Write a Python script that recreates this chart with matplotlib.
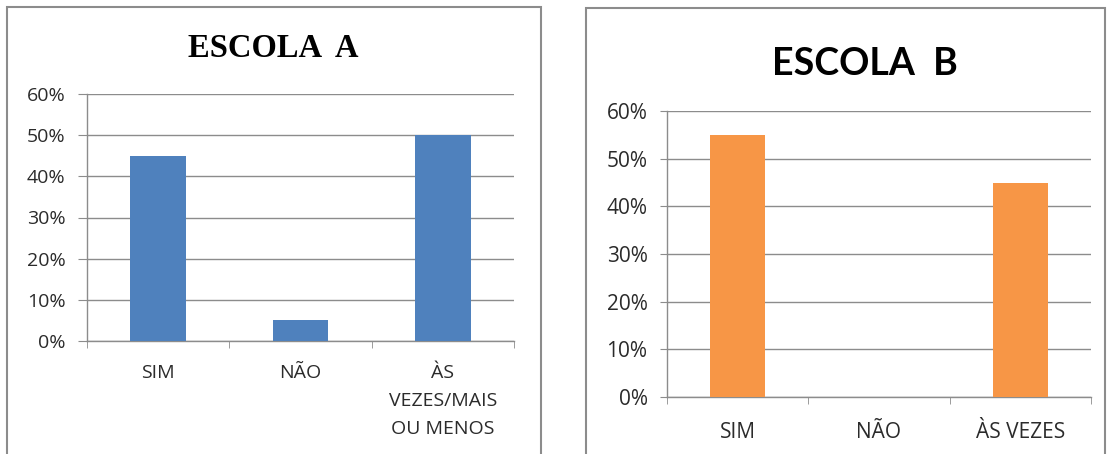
import matplotlib
matplotlib.use('Agg')
import matplotlib.pyplot as plt
from matplotlib.patches import Rectangle
from matplotlib.ticker import PercentFormatter, FixedLocator

# dados
categorias_a = ['SIM', 'NÃO', 'ÀS\nVEZES/MAIS\nOU MENOS']
valores_a = [45, 5, 50]
categorias_b = ['SIM', 'NÃO', 'ÀS VEZES']
valores_b = [55, 0, 45]
ticks_y = [0, 10, 20, 30, 40, 50, 60]

W, H = 1112, 454
fig = plt.figure(figsize=(W / 100, H / 100), dpi=100)
fig.patch.set_facecolor('white')
plt.rcParams['font.family'] = ['Open Sans', 'DejaVu Sans']


def box(x0, y0, x1, y1):
    # caixa em pixels (origem em cima) -> fracao da figura
    return [x0 / W, 1 - y1 / H, (x1 - x0) / W, (y1 - y0) / H]


def painel(ax, cats, vals, cor, fs, ytick_len, pad_x):
    n = len(cats)
    ax.bar(range(n), vals, width=0.39, color=cor, zorder=3)
    ax.set_xlim(-0.5, n - 0.5)
    ax.set_ylim(0, 60)
    ax.yaxis.set_major_locator(FixedLocator(ticks_y))
    ax.yaxis.set_major_formatter(PercentFormatter(decimals=0))
    ax.grid(axis='y', color='#8c8c8c', lw=1, zorder=0)
    for s in ['top', 'right']:
        ax.spines[s].set_visible(False)
    for s in ['left', 'bottom']:
        ax.spines[s].set_color('#8c8c8c')
        ax.spines[s].set_linewidth(1)
    ax.set_xticks(range(n))
    ax.set_xticklabels(cats, linespacing=1.72)
    ax.set_xticks([i - 0.5 for i in range(n + 1)], minor=True)
    ax.tick_params(axis='x', which='major', length=0, pad=pad_x,
                   labelsize=fs, labelcolor='#2b2b2b')
    ax.tick_params(axis='x', which='minor', length=5, color='#8c8c8c')
    ax.tick_params(axis='y', length=ytick_len, color='#8c8c8c', pad=9,
                   labelsize=fs, labelcolor='#2b2b2b')


# molduras
fig.add_artist(Rectangle((7 / W, 1 - 470 / H), 534 / W, 463 / H,
                         transform=fig.transFigure, fill=False,
                         ec='#8c8c8c', lw=1.5))
fig.add_artist(Rectangle((586 / W, 1 - 470 / H), 519 / W, 462 / H,
                         transform=fig.transFigure, fill=False,
                         ec='#8c8c8c', lw=1.5))

ax1 = fig.add_axes(box(87, 94, 514, 341))
painel(ax1, categorias_a, valores_a, '#4F81BD', 14, 6.5, 16.5)
fig.text(273.5 / W, 1 - 57 / H, 'ESCOLA  A', ha='center', va='baseline',
         fontsize=23.5, fontweight='bold', family='Liberation Serif')

ax2 = fig.add_axes(box(667, 111, 1091, 397))
painel(ax2, categorias_b, valores_b, '#F79646', 15, 5, 18)
fig.text(865 / W, 1 - 75 / H, 'ESCOLA  B', ha='center', va='baseline',
         fontsize=27, fontweight='bold', family='Lato')

fig.savefig('out.png', dpi=100)
